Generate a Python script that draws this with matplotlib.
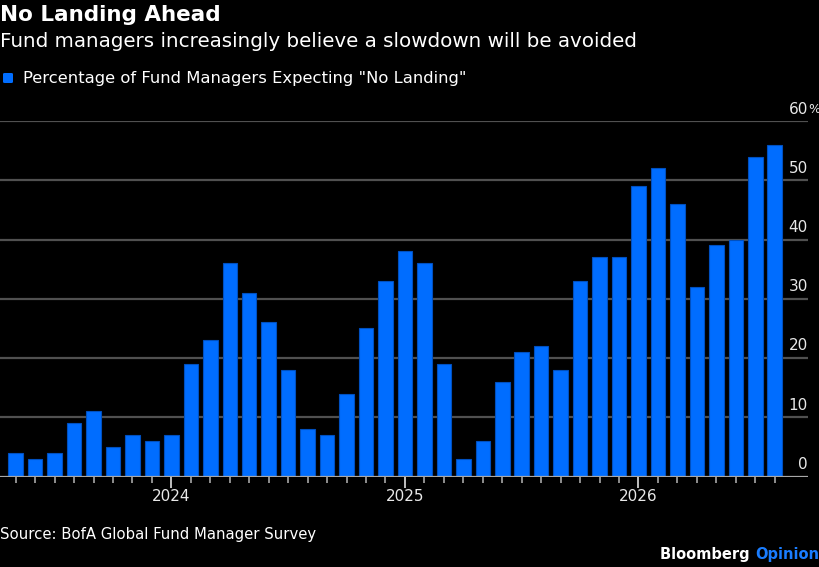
import numpy as np
import matplotlib
matplotlib.use('Agg')
import matplotlib.pyplot as plt
from matplotlib.patches import FancyBboxPatch

plt.rcParams['font.family'] = 'DejaVu Sans'

# monthly survey share, May 2023 .. Aug 2026 as labelled in the chart
values = [4, 3, 4, 9, 11, 5, 7, 6, 7, 19, 23, 36, 31, 26, 18, 8, 7, 14, 25, 33,
          38, 36, 19, 3, 6, 16, 21, 22, 18, 33, 37, 37, 49, 52, 46, 32, 39, 40, 54, 56]
year_pos = [8, 20, 32]
year_labels = ['2024', '2025', '2026']
y_ticks = [0, 10, 20, 30, 40, 50, 60]

W, H = 820, 567
fig = plt.figure(figsize=(W / 100, H / 100), dpi=100, facecolor='black')
ax = fig.add_axes([0, (H - 476.5) / H, 808 / W, (476.5 - 121) / H])
ax.set_facecolor('black')

bar_col = '#006dff'
x = np.arange(len(values))
ax.bar(x, values, width=0.745, color=bar_col, edgecolor='#0050c0', linewidth=0.8, zorder=3)

for t in y_ticks[1:]:
    ax.axhline(t, color='#505050', lw=1.6, zorder=1)
ax.axhline(0, color='#a8a8a8', lw=1.6, zorder=4)

ax.set_xlim(-0.807, 40.71)
ax.set_ylim(0, 60)
for s in ax.spines.values():
    s.set_visible(False)

ax.set_yticks([])
ax.set_xticks(year_pos)
ax.set_xticklabels(year_labels, fontsize=11, color='#e8e8e8')
ax.set_xticks([i for i in x if i not in year_pos], minor=True)
ax.tick_params(axis='x', which='major', length=8, width=1.2, color='#e0e0e0', pad=1)
ax.tick_params(axis='x', which='minor', length=4, width=1.2, color='#a8a8a8')

for t in y_ticks:
    lab = ax.annotate(str(t), xy=(1.0, t), xycoords=('axes fraction', 'data'),
                      xytext=(0, 5.4), textcoords='offset points',
                      ha='right', va='baseline', fontsize=11, color='#e8e8e8',
                      annotation_clip=False)
    if t == 60:
        ax.annotate('%', xy=(1, 0), xycoords=lab, xytext=(0, 0.5),
                    textcoords='offset points', ha='left', va='bottom',
                    fontsize=9, color='#e8e8e8')

def fy(px):
    return 1 - px / H

fig.text(0, fy(21), 'No Landing Ahead', fontsize=15.5, fontweight='bold',
         color='white', va='baseline', ha='left')
fig.text(0, fy(46.7), 'Fund managers increasingly believe a slowdown will be avoided',
         fontsize=14.3, color='white', va='baseline', ha='left')
fig.patches.append(FancyBboxPatch((3 / W, fy(83)), 10 / W, 10 / H,
                                  boxstyle='round,pad=0,rounding_size=0.002',
                                  transform=fig.transFigure, facecolor=bar_col,
                                  edgecolor='none', figure=fig))
fig.text(23 / W, fy(83.3), 'Percentage of Fund Managers Expecting "No Landing"',
         fontsize=11.8, color='white', va='baseline', ha='left')

fig.text(0, fy(539), 'Source: BofA Global Fund Manager Survey',
         fontsize=10.7, color='white', va='baseline', ha='left')
op = fig.text(819 / W, fy(559), 'Opinion', fontsize=10.5, fontweight='bold',
              color='#1a7dff', va='baseline', ha='right')
ax.annotate('Bloomberg ', xy=(0, 0), xycoords=op, ha='right', va='bottom',
            fontsize=10.5, fontweight='bold', color='white')

fig.savefig('out.png', dpi=100, facecolor='black')
